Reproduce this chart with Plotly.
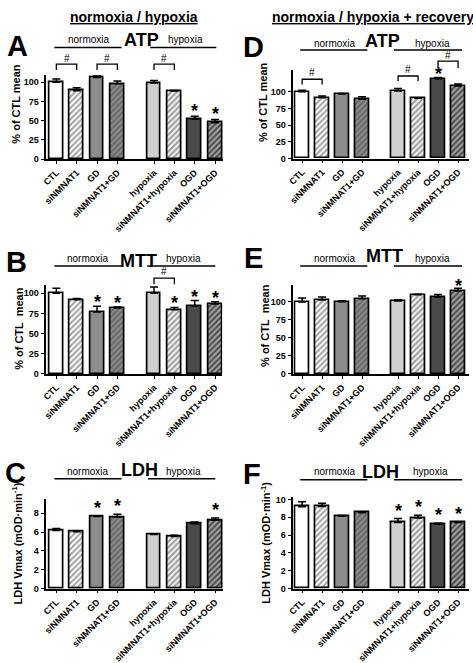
import plotly.graph_objects as go

W, H = 473, 663

categories = ["CTL", "siNMNAT1", "GD", "siNMNAT1+GD",
              "hypoxia", "siNMNAT1+hypoxia", "OGD", "siNMNAT1+OGD"]
positions = [0, 1, 2, 3, 4.8, 5.8, 6.8, 7.8]

# normoxia / hypoxia
atp_hyp = [100, 88.9, 106, 97.9, 99.1, 88.5, 52.1, 47.4]
atp_hyp_err = [4.3, 3.8, 3.0, 3.8, 3.0, 0.8, 3.8, 4.3]
mtt_hyp = [100, 92, 76.7, 81.6, 100, 79.6, 84, 86.5]
mtt_hyp_err = [6.0, 1.5, 7.0, 1.3, 7.8, 2.8, 7.0, 2.9]
ldh_hyp = [6.18, 6.04, 7.65, 7.61, 5.75, 5.54, 6.88, 7.26]
ldh_hyp_err = [0.21, 0.06, 0.03, 0.29, 0.07, 0.14, 0.21, 0.24]
# normoxia / hypoxia + recovery
atp_rec = [100, 91.2, 96.6, 88.8, 101, 90.2, 119.5, 108.8]
atp_rec_err = [2.4, 2.5, 1.0, 3.9, 3.9, 1.0, 2.0, 2.9]
mtt_rec = [99.5, 102.3, 100, 104, 101, 109.6, 106.4, 115]
mtt_rec_err = [5.5, 4.1, 1.4, 3.8, 1.7, 0.9, 3.6, 3.7]
ldh_rec = [9.19, 9.22, 8.12, 8.52, 7.42, 7.93, 7.23, 7.42]
ldh_rec_err = [0.55, 0.34, 0.07, 0.08, 0.44, 0.30, 0.11, 0.07]

pct_ticks = [0, 25, 50, 75, 100]
ldh_ticks_c = [0, 2, 4, 6, 8]
ldh_ticks_f = [0, 2, 4, 6, 8, 10]

FONT = "Liberation Sans, Arial, sans-serif"

bar_colors = ["#ffffff", "#ffffff", "#8c8c8c", "#8c8c8c",
              "#d0d0d0", "#f4f4f4", "#4a4a4a", "#4a4a4a"]
pat_shapes = ["", "/", "", "/", "", "/", "", "/"]
pat_fg = ["#000", "#000", "#000", "#222222", "#000", "#2a2a2a", "#000", "#0a0a0a"]

# panel layout specs: x domain px, x range, y domain px (top,bottom), y range
panels = {
    "A": dict(ax=1, vals=atp_hyp, err=atp_hyp_err, xd=(41, 220), xr=(-0.485, 8.2),
              yd=(73.3, 158.3), yr=(0, 109), ticks=pct_ticks,
              stars=[6, 7], star_off=9, title="ATP",
              brackets=[(0, 1, 62, 68, 56.5), (2, 3, 62, 68, 56.5), (4, 5, 62, 68, 56.5)],
              ytitle="% of CTL mean"),
    "B": dict(ax=2, vals=mtt_hyp, err=mtt_hyp_err, xd=(41, 219), xr=(-0.485, 8.15),
              yd=(286, 376), yr=(0, 110), ticks=pct_ticks,
              stars=[2, 3, 5, 6, 7], star_off=8, title="MTT",
              brackets=[(4, 5, 279, 285, 272.7)],
              ytitle="% of CTL  mean"),
    "C": dict(ax=3, vals=ldh_hyp, err=ldh_hyp_err, xd=(41, 220), xr=(-0.485, 8.2),
              yd=(503.3, 593.7), yr=(0, 9.47), ticks=ldh_ticks_c,
              stars=[2, 3, 7], star_off=12, title="LDH", brackets=[],
              ytitle="LDH Vmax (mOD·min<sup>-1</sup>)"),
    "D": dict(ax=4, vals=atp_rec, err=atp_rec_err, xd=(291, 469), xr=(-0.44, 8.35),
              yd=(68, 157.7), yr=(0, 132.5), ticks=pct_ticks,
              stars=[6], star_off=7, title="ATP",
              brackets=[(0, 1, 77.3, 82.5, 70.5), (4, 5, 74, 79, 67.5), (6, 7, 59, 66, 53)],
              ytitle="% of CTL mean"),
    "E": dict(ax=5, vals=mtt_rec, err=mtt_rec_err, xd=(291, 469), xr=(-0.44, 8.35),
              yd=(286, 376), yr=(0, 123), ticks=pct_ticks,
              stars=[7], star_off=6, title="MTT", brackets=[],
              ytitle="% of CTL  mean"),
    "F": dict(ax=6, vals=ldh_rec, err=ldh_rec_err, xd=(291, 469), xr=(-0.44, 8.35),
              yd=(501, 593.7), yr=(0, 10.25), ticks=ldh_ticks_f,
              stars=[4, 5, 6, 7], star_off=12, title="LDH", brackets=[],
              ytitle="LDH Vmax (mOD·min<sup>-1</sup>)"),
}

# text positions (px): letter, title, normoxia label/line, hypoxia label/line, y-title
text_pos = {
    "A": dict(letter=(12, 44), title=(137, 38), lab_y=37.3, line_y=45,
              norm=(84, 49, 117), hyp=(182, 146, 213), ytitle=(10.7, 102.5)),
    "B": dict(letter=(11, 263), title=(134, 261.7), lab_y=259, line_y=266.7,
              norm=(83, 49, 117), hyp=(180, 143, 212), ytitle=(12.5, 330)),
    "C": dict(letter=(10, 476.5), title=(135, 473.3), lab_y=475, line_y=482.3,
              norm=(83, 49, 117), hyp=(180, 144, 212), ytitle=(11, 548)),
    "D": dict(letter=(251, 45), title=(381.7, 38.3), lab_y=41, line_y=47.7,
              norm=(333, 298, 366), hyp=(431.7, 393, 462), ytitle=(261, 100.7)),
    "E": dict(letter=(251, 259), title=(383, 256.7), lab_y=259.3, line_y=266.7,
              norm=(333, 298, 366), hyp=(432, 393, 462), ytitle=(261.7, 327)),
    "F": dict(letter=(249, 477.5), title=(379, 475), lab_y=475, line_y=483.3,
              norm=(333, 298, 366), hyp=(430, 393, 462), ytitle=(262.5, 547)),
}


def PX(x):
    return x / W


def PY(y):
    return 1 - y / H


def xpx(p, pos):
    (x0, x1), (r0, r1) = p["xd"], p["xr"]
    return x0 + (pos - r0) / (r1 - r0) * (x1 - x0)


def ypx(p, v):
    (top, bot), (y0, y1) = p["yd"], p["yr"]
    return bot - (v - y0) / (y1 - y0) * (bot - top)


def label(text, x, y, size, angle=0):
    return dict(text=text, x=PX(x), y=PY(y), xref="paper", yref="paper",
                xanchor="center", yanchor="middle", showarrow=False, textangle=angle,
                font=dict(family=FONT, size=size, color="black"))


fig = go.Figure()
annotations = []
shapes = []
layout = {}

for key, p in panels.items():
    n = p["ax"]
    xa = "x" if n == 1 else f"x{n}"
    ya = "y" if n == 1 else f"y{n}"
    fig.add_trace(go.Bar(
        x=positions, y=p["vals"], xaxis=xa, yaxis=ya, width=0.68,
        marker=dict(color=bar_colors, line=dict(color="black", width=1.7),
                    pattern=dict(shape=pat_shapes, fgcolor=pat_fg, bgcolor=bar_colors,
                                 size=4, solidity=0.5)),
        error_y=dict(type="data", symmetric=False, array=p["err"],
                     arrayminus=[0] * len(p["err"]), color="black",
                     thickness=1.5, width=4),
        showlegend=False, hoverinfo="skip"))
    xname = "xaxis" if n == 1 else f"xaxis{n}"
    yname = "yaxis" if n == 1 else f"yaxis{n}"
    layout[xname] = dict(
        domain=[PX(p["xd"][0]), PX(p["xd"][1])], range=list(p["xr"]), anchor=ya,
        tickvals=positions, ticktext=categories, tickangle=-45,
        showline=True, linecolor="black", linewidth=1.6, ticks="outside",
        ticklen=3, tickwidth=1.2, tickcolor="black", showgrid=False, zeroline=False,
        tickfont=dict(family=FONT, size=9, color="black", weight="bold"), fixedrange=True)
    layout[yname] = dict(
        domain=[PY(p["yd"][1]), PY(p["yd"][0])], range=list(p["yr"]), anchor=xa,
        tickvals=p["ticks"], showline=True, linecolor="black", linewidth=1.6,
        ticks="outside", ticklen=4, tickwidth=1.2, tickcolor="black",
        showgrid=False, zeroline=False,
        tickfont=dict(family=FONT, size=9, color="black", weight="bold"), fixedrange=True)

    t = text_pos[key]
    annotations.append(label(f"<b>{key}</b>", t["letter"][0], t["letter"][1], 29))
    annotations.append(label(f"<b>{p['title']}</b>", t["title"][0], t["title"][1], 18))
    for lab, (cx, lx0, lx1) in (("normoxia", t["norm"]), ("hypoxia", t["hyp"])):
        annotations.append(label(lab, cx, t["lab_y"], 10))
        shapes.append(dict(type="line", xref="paper", yref="paper",
                           x0=PX(lx0), x1=PX(lx1), y0=PY(t["line_y"]), y1=PY(t["line_y"]),
                           line=dict(color="black", width=1.5)))
    annotations.append(label(f"<b>{p['ytitle']}</b>", t["ytitle"][0], t["ytitle"][1], 11, -90))
    # stars
    for i in p["stars"]:
        ytop = ypx(p, p["vals"][i] + p["err"][i]) - p["star_off"]
        annotations.append(label("<b>*</b>", xpx(p, positions[i]), ytop + 4, 18))
    # brackets
    for (i, j, ytop, yleg, yhash) in p["brackets"]:
        xa0, xa1 = xpx(p, positions[i]), xpx(p, positions[j])
        shapes.append(dict(type="path", xref="paper", yref="paper",
                           path=(f"M{PX(xa0)},{PY(yleg)} L{PX(xa0)},{PY(ytop)} "
                                 f"L{PX(xa1)},{PY(ytop)} L{PX(xa1)},{PY(yleg)}"),
                           line=dict(color="black", width=1.3)))
        annotations.append(label("#", (xa0 + xa1) / 2, yhash, 10))

annotations.append(label("<b><u>normoxia / hypoxia</u></b>", 129.5, 14, 14))
annotations.append(label("<b><u>normoxia / hypoxia + recovery</u></b>", 371.5, 14, 14))

fig.update_layout(width=W, height=H, autosize=False,
                  margin=dict(l=0, r=0, t=0, b=0, pad=0),
                  paper_bgcolor="white", plot_bgcolor="white",
                  annotations=annotations, shapes=shapes, bargap=0, **layout)

fig.write_html("out.html", config={"displayModeBar": False},
               post_script="document.body.style.margin='0';document.body.style.overflow='hidden';")
